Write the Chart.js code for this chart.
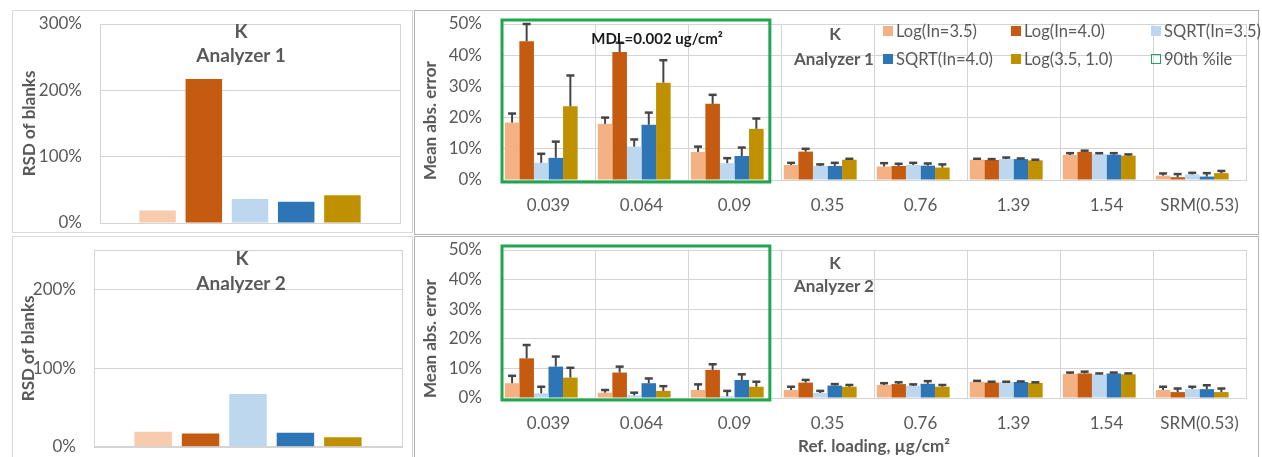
<!DOCTYPE html>
<html>
<head>
<meta charset="utf-8">
<script src="https://cdn.jsdelivr.net/npm/chart.js@4.4.1/dist/chart.umd.min.js"></script>
<style>
  body { margin: 0; background: #fff; font-family: Lato, sans-serif; }
  #wrap { position: relative; width: 1262px; height: 457px; overflow: hidden; }
  .panel { position: absolute; box-sizing: border-box; }
  canvas { position: absolute; }
  .txt { position: absolute; transform: translate(-50%, -50%); white-space: nowrap; color: #595959; font-weight: bold; line-height: 1; }
  #legend { position: absolute; left: 883px; top: 17px; display: grid; grid-template-columns: 128px 140px auto; grid-auto-rows: 28px; font-size: 16.5px; color: #595959; }
  #legend div { display: flex; align-items: center; white-space: nowrap; }
  #legend span.sw { width: 10px; height: 10px; margin-right: 3px; box-sizing: border-box; }
</style>
</head>
<body>
<div id="wrap">
  <div class="panel" style="left:12px;top:10px;width:401px;height:223px;border:1px solid #d9d9d9"></div>
  <div class="panel" style="left:12px;top:236px;width:401px;height:240px;border:1px solid #d9d9d9"></div>
  <div class="panel" style="left:414px;top:10px;width:845px;height:225px;border:1px solid #b3b3b3"></div>
  <div class="panel" style="left:414px;top:236px;width:845px;height:240px;border:1px solid #b3b3b3"></div>

  <canvas id="rsd1" width="400" height="224" style="left:12px;top:10px"></canvas>
  <canvas id="rsd2" width="400" height="220" style="left:12px;top:237px"></canvas>
  <canvas id="err1" width="844" height="223" style="left:414px;top:10px"></canvas>
  <canvas id="err2" width="844" height="220" style="left:414px;top:237px"></canvas>

  <div class="txt" style="left:241px;top:30px;font-size:19px">K</div>
  <div class="txt" style="left:241px;top:54px;font-size:19px">Analyzer 1</div>
  <div class="txt" style="left:242px;top:257px;font-size:19px">K</div>
  <div class="txt" style="left:241px;top:282px;font-size:19px">Analyzer 2</div>
  <div class="txt" style="left:835px;top:33px;font-size:17px">K</div>
  <div class="txt" style="left:834px;top:58px;font-size:17px">Analyzer 1</div>
  <div class="txt" style="left:835px;top:262px;font-size:17px">K</div>
  <div class="txt" style="left:834px;top:285px;font-size:17px">Analyzer 2</div>
  <div class="txt" style="left:657px;top:38px;font-size:15px;color:#1a1a1a">MDL=0.002 ug/cm²</div>
  <div id="legend"></div>
</div>
<script>
const seriesNames = ['Log(In=3.5)', 'Log(In=4.0)', 'SQRT(In=3.5)', 'SQRT(In=4.0)', 'Log(3.5, 1.0)'];
const seriesColors = ['#f4b183', '#c55a11', '#bdd7ee', '#2e75b6', '#bf9000'];
const blankColors = ['#f8cbad', '#c55a11', '#bdd7ee', '#2e75b6', '#bf9000'];
const loadings = ['0.039', '0.064', '0.09', '0.35', '0.76', '1.39', '1.54', 'SRM(0.53)'];

// RSD of blanks (%), one value per method
const rsdAnalyzer1 = [19, 217, 36, 32, 42];
const rsdAnalyzer2 = [19, 17, 67, 18, 12];

// Mean abs. error (%), Analyzer 1
const a1Log35 = [18.4, 18.0, 9.0, 4.8, 4.3, 6.5, 8.0, 1.4];
const a1Log40 = [44.5, 41.0, 24.4, 9.1, 4.5, 6.4, 9.0, 0.9];
const a1Sqrt35 = [5.5, 10.7, 5.4, 4.5, 4.8, 6.7, 8.3, 1.8];
const a1Sqrt40 = [7.1, 17.7, 7.7, 4.5, 4.6, 6.7, 8.1, 1.1];
const a1Log3510 = [23.6, 31.2, 16.4, 6.5, 4.0, 6.3, 7.8, 2.2];
const a1Log35Err = [2.9, 2.0, 1.7, 0.7, 1.1, 0.3, 0.6, 0.7];
const a1Log40Err = [5.5, 3.0, 2.9, 0.9, 0.7, 0.3, 0.4, 1.0];
const a1Sqrt35Err = [2.9, 2.3, 1.6, 0.5, 0.7, 0.5, 0.3, 0.5];
const a1Sqrt40Err = [5.2, 3.9, 2.7, 1.0, 0.7, 0.2, 0.5, 1.1];
const a1Log3510Err = [9.9, 7.2, 3.3, 0.3, 1.0, 0.2, 0.4, 0.7];

// Mean abs. error (%), Analyzer 2
const a2Log35 = [5.0, 1.8, 2.7, 2.7, 4.4, 5.5, 8.1, 2.7];
const a2Log40 = [13.4, 8.6, 9.5, 5.2, 4.7, 5.2, 8.3, 2.0];
const a2Sqrt35 = [1.6, 0.9, 0.6, 1.7, 4.1, 5.3, 8.0, 3.0];
const a2Sqrt40 = [10.6, 5.0, 6.1, 4.2, 4.8, 5.4, 8.3, 3.0];
const a2Log3510 = [6.9, 2.4, 3.8, 3.8, 3.8, 5.1, 8.0, 2.0];
const a2Log35Err = [2.5, 0.9, 1.9, 1.1, 0.6, 0.3, 0.5, 1.1];
const a2Log40Err = [4.5, 2.0, 1.9, 0.9, 0.6, 0.3, 0.6, 1.2];
const a2Sqrt35Err = [2.2, 0.9, 1.8, 0.7, 0.5, 0.2, 0.3, 0.8];
const a2Sqrt40Err = [3.4, 1.6, 1.9, 0.5, 0.9, 0.2, 0.3, 1.3];
const a2Log3510Err = [3.3, 1.6, 1.7, 0.6, 0.6, 0.2, 0.3, 1.2];

// loadings below the 90th percentile (boxed in green)
const boxedFrom = 0, boxedTo = 2;
const boxColor = '#1fa64f';

Chart.defaults.font.family = 'Lato';
Chart.defaults.color = '#595959';
Chart.defaults.animation = false;

const gridColor = '#d4d4d4';

const plotBorder = {
    id: 'plotBorder',
    afterDraw(chart) {
        const a = chart.chartArea, ctx = chart.ctx;
        ctx.save();
        ctx.strokeStyle = gridColor;
        ctx.lineWidth = 1;
        ctx.strokeRect(Math.round(a.left) + 0.5, Math.round(a.top) + 0.5, Math.round(a.right - a.left), Math.round(a.bottom - a.top));
        ctx.restore();
    }
};

const errorBars = {
    id: 'errorBars',
    afterDatasetsDraw(chart) {
        const ctx = chart.ctx, y = chart.scales.y;
        chart.data.datasets.forEach((ds, i) => {
            if (!ds.errors) return;
            chart.getDatasetMeta(i).data.forEach((bar, j) => {
                const top = y.getPixelForValue(ds.data[j] + ds.errors[j]);
                ctx.save();
                ctx.strokeStyle = '#454545';
                ctx.lineWidth = 2;
                ctx.beginPath();
                ctx.moveTo(bar.x, bar.y);
                ctx.lineTo(bar.x, top);
                ctx.stroke();
                ctx.lineWidth = 2.5;
                ctx.beginPath();
                ctx.moveTo(bar.x - 4, top);
                ctx.lineTo(bar.x + 4, top);
                ctx.stroke();
                ctx.restore();
            });
        });
    }
};

const boxPlugin = {
    id: 'boxPlugin',
    afterDraw(chart) {
        const x = chart.scales.x, a = chart.chartArea, ctx = chart.ctx;
        const half = (x.getPixelForValue(1) - x.getPixelForValue(0)) / 2;
        const left = x.getPixelForValue(boxedFrom) - half;
        const right = x.getPixelForValue(boxedTo) + half * 0.76;
        ctx.save();
        ctx.strokeStyle = boxColor;
        ctx.lineWidth = 3;
        ctx.strokeRect(left, a.top - 4, right - left, a.bottom - a.top + 6);
        ctx.restore();
    }
};

// tick labels are pushed away from the axis with an invisible tick mark,
// because ticks.padding also pads the chart area vertically
function yGrid(len) {
    return { color: gridColor, tickLength: len, tickColor: 'rgba(0,0,0,0)' };
}

function rsdChart(id, values, yMax, yWidth, pad, titlePad) {
    new Chart(document.getElementById(id), {
        type: 'bar',
        data: {
            labels: [''],
            datasets: values.map((v, i) => ({
                label: seriesNames[i],
                data: [v],
                backgroundColor: blankColors[i]
            }))
        },
        options: {
            responsive: false,
            layout: { padding: pad },
            categoryPercentage: 0.77,
            barPercentage: 0.79,
            plugins: { legend: { display: false }, tooltip: { enabled: false } },
            scales: {
                x: { display: false },
                y: {
                    min: 0, max: yMax,
                    afterFit: s => { s.width = yWidth; },
                    // only whole hundreds get a label (the 250% top stays blank)
                    ticks: { stepSize: 100, font: { size: 17 }, padding: 0, callback: v => (v % 100 === 0 ? v + '%' : '') },
                    grid: yGrid(18),
                    border: { color: gridColor },
                    title: { display: true, text: 'RSD of blanks', font: { size: 17, weight: 'bold' }, padding: { top: titlePad, bottom: 0 } }
                }
            }
        },
        plugins: [plotBorder]
    });
}

function errChart(id, vals, errs, padTop, xHeight, tickPad, showTitle) {
    const datasets = vals.map((v, i) => ({
        label: seriesNames[i],
        data: v,
        errors: errs[i],
        backgroundColor: seriesColors[i]
    }));
    datasets.push({ label: '90th %ile', data: [], backgroundColor: 'rgba(0,0,0,0)', borderColor: boxColor });
    return new Chart(document.getElementById(id), {
        type: 'bar',
        data: { labels: loadings, datasets },
        options: {
            responsive: false,
            layout: { padding: { left: 0, right: 12, top: padTop, bottom: 0 } },
            categoryPercentage: 0.94,
            barPercentage: 1.0,
            plugins: { legend: { display: false }, tooltip: { enabled: false } },
            scales: {
                x: {
                    afterFit: s => { s.height = xHeight; },
                    ticks: { font: { size: 17 }, padding: tickPad },
                    grid: { color: gridColor, drawTicks: false },
                    border: { color: gridColor },
                    title: { display: showTitle, text: 'Ref. loading, µg/cm²', font: { size: 17, weight: 'bold' }, padding: { top: 0, bottom: 0 } }
                },
                y: {
                    min: 0, max: 50,
                    afterFit: s => { s.width = 88; },
                    ticks: { stepSize: 10, font: { size: 17 }, padding: 2, callback: v => v + '%' },
                    grid: yGrid(18),
                    border: { color: gridColor },
                    title: { display: true, text: 'Mean abs. error', align: 'start', font: { size: 17, weight: 'bold' }, padding: { top: 6, bottom: 0 } }
                }
            }
        },
        plugins: [errorBars, boxPlugin]
    });
}

rsdChart('rsd1', rsdAnalyzer1, 300, 88, { left: 0, right: 12, top: 14, bottom: 11 }, 7);
rsdChart('rsd2', rsdAnalyzer2, 250, 82, { left: 0, right: 10, top: 13, bottom: 10 }, 6);

const topChart = errChart('err1',
    [a1Log35, a1Log40, a1Sqrt35, a1Sqrt40, a1Log3510],
    [a1Log35Err, a1Log40Err, a1Sqrt35Err, a1Sqrt40Err, a1Log3510Err], 14, 53, 15, false);
errChart('err2',
    [a2Log35, a2Log40, a2Sqrt35, a2Sqrt40, a2Log3510],
    [a2Log35Err, a2Log40Err, a2Sqrt35Err, a2Sqrt40Err, a2Log3510Err], 13, 59, 15, true);

// legend built from the top chart's datasets, in Excel's row order
const legend = document.getElementById('legend');
topChart.data.datasets.forEach(ds => {
    const item = document.createElement('div');
    const sw = document.createElement('span');
    sw.className = 'sw';
    if (ds.label === '90th %ile') {
        sw.style.border = '1.5px solid ' + ds.borderColor;
    } else {
        sw.style.background = ds.backgroundColor;
    }
    item.appendChild(sw);
    item.appendChild(document.createTextNode(ds.label));
    legend.appendChild(item);
});
</script>
</body>
</html>
